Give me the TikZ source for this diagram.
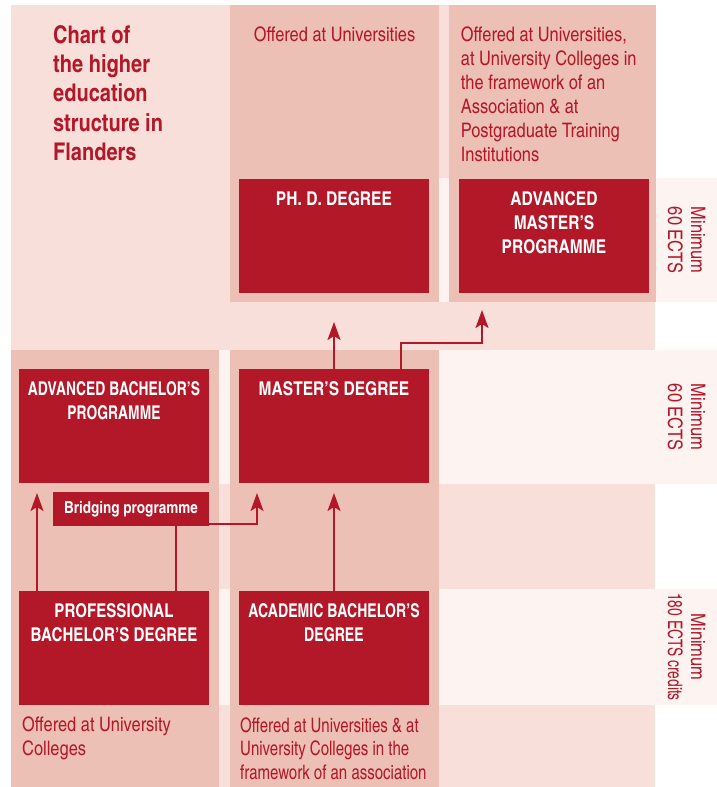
\documentclass[tikz,border=0pt]{standalone}
\usepackage{fontspec}
\setmainfont{texgyreheroscn}[Extension=.otf, UprightFont=*-regular, BoldFont=*-bold, ItalicFont=*-italic, BoldItalicFont=*-bolditalic]
\newfontfamily\cnA{texgyreheroscn}[Extension=.otf, UprightFont=*-regular, BoldFont=*-bold, FakeStretch=0.89]
\newfontfamily\cnB{texgyreheroscn}[Extension=.otf, UprightFont=*-regular, BoldFont=*-bold, FakeStretch=0.905]
\newfontfamily\cnC{texgyreheroscn}[Extension=.otf, UprightFont=*-regular, BoldFont=*-bold, FakeStretch=0.97]
\newfontfamily\cnD{texgyreheroscn}[Extension=.otf, UprightFont=*-regular, BoldFont=*-bold, FakeStretch=0.915]
\newfontfamily\cnE{texgyreheroscn}[Extension=.otf, UprightFont=*-regular, BoldFont=*-bold, FakeStretch=0.84]
\usetikzlibrary{arrows.meta}
\definecolor{dred}{RGB}{179,24,41}
\definecolor{lpink}{RGB}{248,223,217}
\definecolor{mpink}{RGB}{237,192,182}
\definecolor{wpink}{RGB}{253,243,241}
\tikzset{
  degbox/.style={fill=dred, draw=none, minimum width=190pt, minimum height=114pt, inner sep=0pt, outer sep=0pt},
  boxlabel/.style={anchor=north, yshift=-12.7pt, inner sep=0pt, text=white, font=\bfseries\fontsize{19}{24}\selectfont, align=center},
  labA/.style={font=\cnA\bfseries\fontsize{19}{24}\selectfont},
  labB/.style={font=\cnB\bfseries\fontsize{19}{24}\selectfont},
  labC/.style={font=\cnC\bfseries\fontsize{19}{24}\selectfont},
  bridgebox/.style={fill=dred, draw=none, minimum width=156pt, minimum height=34pt, inner sep=0pt, outer sep=0pt, text=white, font=\bfseries\fontsize{16.5}{20}\selectfont},
  redtext/.style={inner sep=0pt, text=dred, font=\fontsize{20}{24}\selectfont},
  titletext/.style={inner sep=0pt, text=dred, font=\bfseries\fontsize{24.4}{29.4}\selectfont, align=left, anchor=north west},
  ectstext/.style={inner sep=0pt, text=dred, font=\fontsize{20}{23}\selectfont, align=center, rotate=-90},
  conn/.style={draw=dred, line width=2pt},
  arr/.style={conn, -{Stealth[length=18pt, width=13pt, inset=4pt]}},
}
\begin{document}
\begin{tikzpicture}[x=1pt, y=-1pt]
\useasboundingbox (0,0) rectangle (717,787);
% backgrounds
\fill[lpink] (11,5) rectangle (655,787);
\fill[wpink] (439,178) rectangle (717,302);
\fill[wpink] (219,350) rectangle (717,484);
\fill[wpink] (219,589) rectangle (717,705);
\fill[mpink] (230,5) rectangle (439,302);
\fill[mpink] (449,5) rectangle (656,302);
\fill[mpink] (11,350) rectangle (219,787);
\fill[mpink] (230,350) rectangle (439,787);

% title and descriptions
\node[titletext] (title) at (53,25) {Chart of\\the higher\\education\\structure in\\Flanders};
\node[redtext, anchor=north, align=center] (univ) at (334.5,26.7) {Offered at Universities};
\node[redtext, anchor=north west, align=left] (univall) at (460.7,26.7) {Offered at Universities,\\at University Colleges in\\the framework of an\\Association \& at\\Postgraduate Training\\Institutions};
\node[redtext, anchor=north west, align=left] (ucoll) at (22,716.7) {Offered at University\\Colleges};
\node[redtext, font=\cnD\fontsize{20}{23.4}\selectfont, anchor=north west, align=left] (uniassoc) at (240,717.5) {Offered at Universities \& at\\University Colleges in the\\framework of an association};

% ECTS labels
\node[ectstext] (e1) at (686.5,240) {Minimum\\60 ECTS};
\node[ectstext] (e2) at (686.5,417) {Minimum\\60 ECTS};
\node[ectstext] (e3) at (686.5,647) {Minimum\\{\cnE 180 ECTS credits}};

% degree boxes
\node[degbox, label={[boxlabel]north:{PH. D. DEGREE}}] (phd) at (334,236) {};
\node[degbox, label={[boxlabel]north:{ADVANCED\\MASTER’S\\PROGRAMME}}] (advm) at (554,236) {};
\node[degbox, label={[boxlabel, labA]north:{ADVANCED BACHELOR’S\\PROGRAMME}}] (advb) at (114,426) {};
\node[degbox, label={[boxlabel]north:{MASTER’S DEGREE}}] (mast) at (334,426) {};
\node[degbox, label={[boxlabel, labC]north:{PROFESSIONAL\\BACHELOR’S DEGREE}}] (profb) at (114,648) {};
\node[degbox, label={[boxlabel, labB]north:{ACADEMIC BACHELOR’S\\DEGREE}}] (acadb) at (334,648) {};
\node[bridgebox] (bridge) at (131,509) {Bridging programme};

% connectors
\draw[arr] ([xshift=18pt]profb.north west) -- ([xshift=18pt, yshift=-10pt]advb.south west);
\draw[conn] ([xshift=157pt]profb.north west) -- ([xshift=157pt]profb.north west |- bridge.south);
\draw[arr] ([yshift=2pt]bridge.south east) -| ([xshift=18pt, yshift=-10pt]mast.south west);
\draw[arr] (acadb.north) -- ([yshift=-10pt]mast.south);
\draw[arr] (mast.north) -- ([yshift=-29pt]phd.south);
\draw[arr] ([xshift=162pt]mast.north west) |- ([xshift=23pt, yshift=-50pt]advm.south west) -- ([xshift=23pt, yshift=-17pt]advm.south west);
\end{tikzpicture}
\end{document}
